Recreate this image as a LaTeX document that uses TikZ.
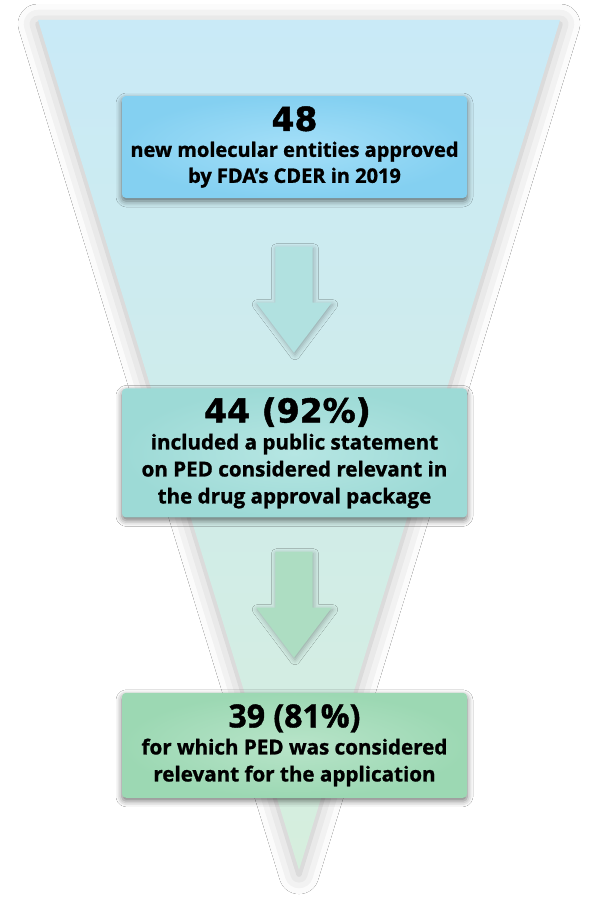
\documentclass[tikz,border=0pt]{standalone}
\usepackage{fontspec}
\setmainfont{Open Sans}[BoldFeatures={FakeBold=1.2}]
\newfontfamily\numfont{DejaVu Sans}[BoldFeatures={FakeBold=1.5}]
\usetikzlibrary{positioning,shapes.arrows,shadows.blur}

\definecolor{funtop}{HTML}{C9EAF7}
\definecolor{funmid}{HTML}{BCE4E6}
\definecolor{funbot}{HTML}{D6EEDD}
\definecolor{bluein}{HTML}{A4DFF8}
\definecolor{blueout}{HTML}{84D0F1}
\definecolor{tealin}{HTML}{B6E6E3}
\definecolor{tealout}{HTML}{9DDAD6}
\definecolor{greenin}{HTML}{B8E4C9}
\definecolor{greenout}{HTML}{9CD8B3}
\definecolor{arrteal}{HTML}{B1E1E0}
\definecolor{arrgreen}{HTML}{ADDDC2}

\begin{document}
\begin{tikzpicture}[
  x=1pt, y=-1pt,
  font=\bfseries\fontsize{20}{26}\selectfont,
  funnel/.style={top color=funtop, middle color=funmid, bottom color=funbot,
                 blur shadow={shadow xshift=0pt, shadow yshift=-4pt,
                 shadow blur radius=20pt, shadow opacity=28}},
  card/.style={rounded corners=4pt, align=center, minimum width=345pt,
               inner sep=0pt, shading=radial,
               blur shadow={shadow xshift=0pt, shadow yshift=-3pt,
               shadow blur radius=6pt, shadow opacity=55}},
  bluecard/.style={card, inner color=bluein, outer color=blueout},
  tealcard/.style={card, inner color=tealin, outer color=tealout,
                   font=\bfseries\fontsize{20.6}{27}\selectfont},
  greencard/.style={card, inner color=greenin, outer color=greenout,
                    font=\bfseries\fontsize{20.6}{27}\selectfont},
  downarrow/.style={single arrow, shape border rotate=270, fill=#1,
                    minimum height=106pt, inner sep=18.5pt, anchor=tip,
                    single arrow head extend=19pt, single arrow tip angle=74,
                    single arrow head indent=0pt,
                    blur shadow={shadow xshift=1pt, shadow yshift=-2pt,
                    shadow blur radius=5pt, shadow opacity=30}}
]
\fill[white] (0,0) rectangle (597,899);
\useasboundingbox (0,0) rectangle (597,899);

% funnel behind everything
\coordinate (ftl) at (38,20);
\coordinate (ftr) at (560,20);
\coordinate (ftip) at (299,870);
\shade[funnel] (ftl) -- (ftr) -- (ftip) -- cycle;

% arrows between the stages (placed by their tips)
\node[downarrow=arrteal] (arr1) at (294,353) {};
\node[downarrow=arrgreen] (arr2) at (294,658) {};

% stages
\node[bluecard, minimum height=102pt] (nme) at (294.5,147)
  {{\numfont\fontsize{33}{33}\selectfont 48}\\
   new molecular entities approved\\
   by FDA’s CDER in 2019};
\node[tealcard, minimum height=129pt, below=190pt of nme] (stmt)
  {{\numfont\fontsize{33}{33}\selectfont 44 (92\%)\hspace*{14pt}}\\
   included a public statement\\
   on PED considered relevant in\\
   the drug approval package};
\node[greencard, minimum height=105pt, below=175pt of stmt] (rel)
  {{\fontsize{32}{32}\selectfont 39 (81\%)}\\
   for which PED was considered\\
   relevant for the application};

\end{tikzpicture}
\end{document}
